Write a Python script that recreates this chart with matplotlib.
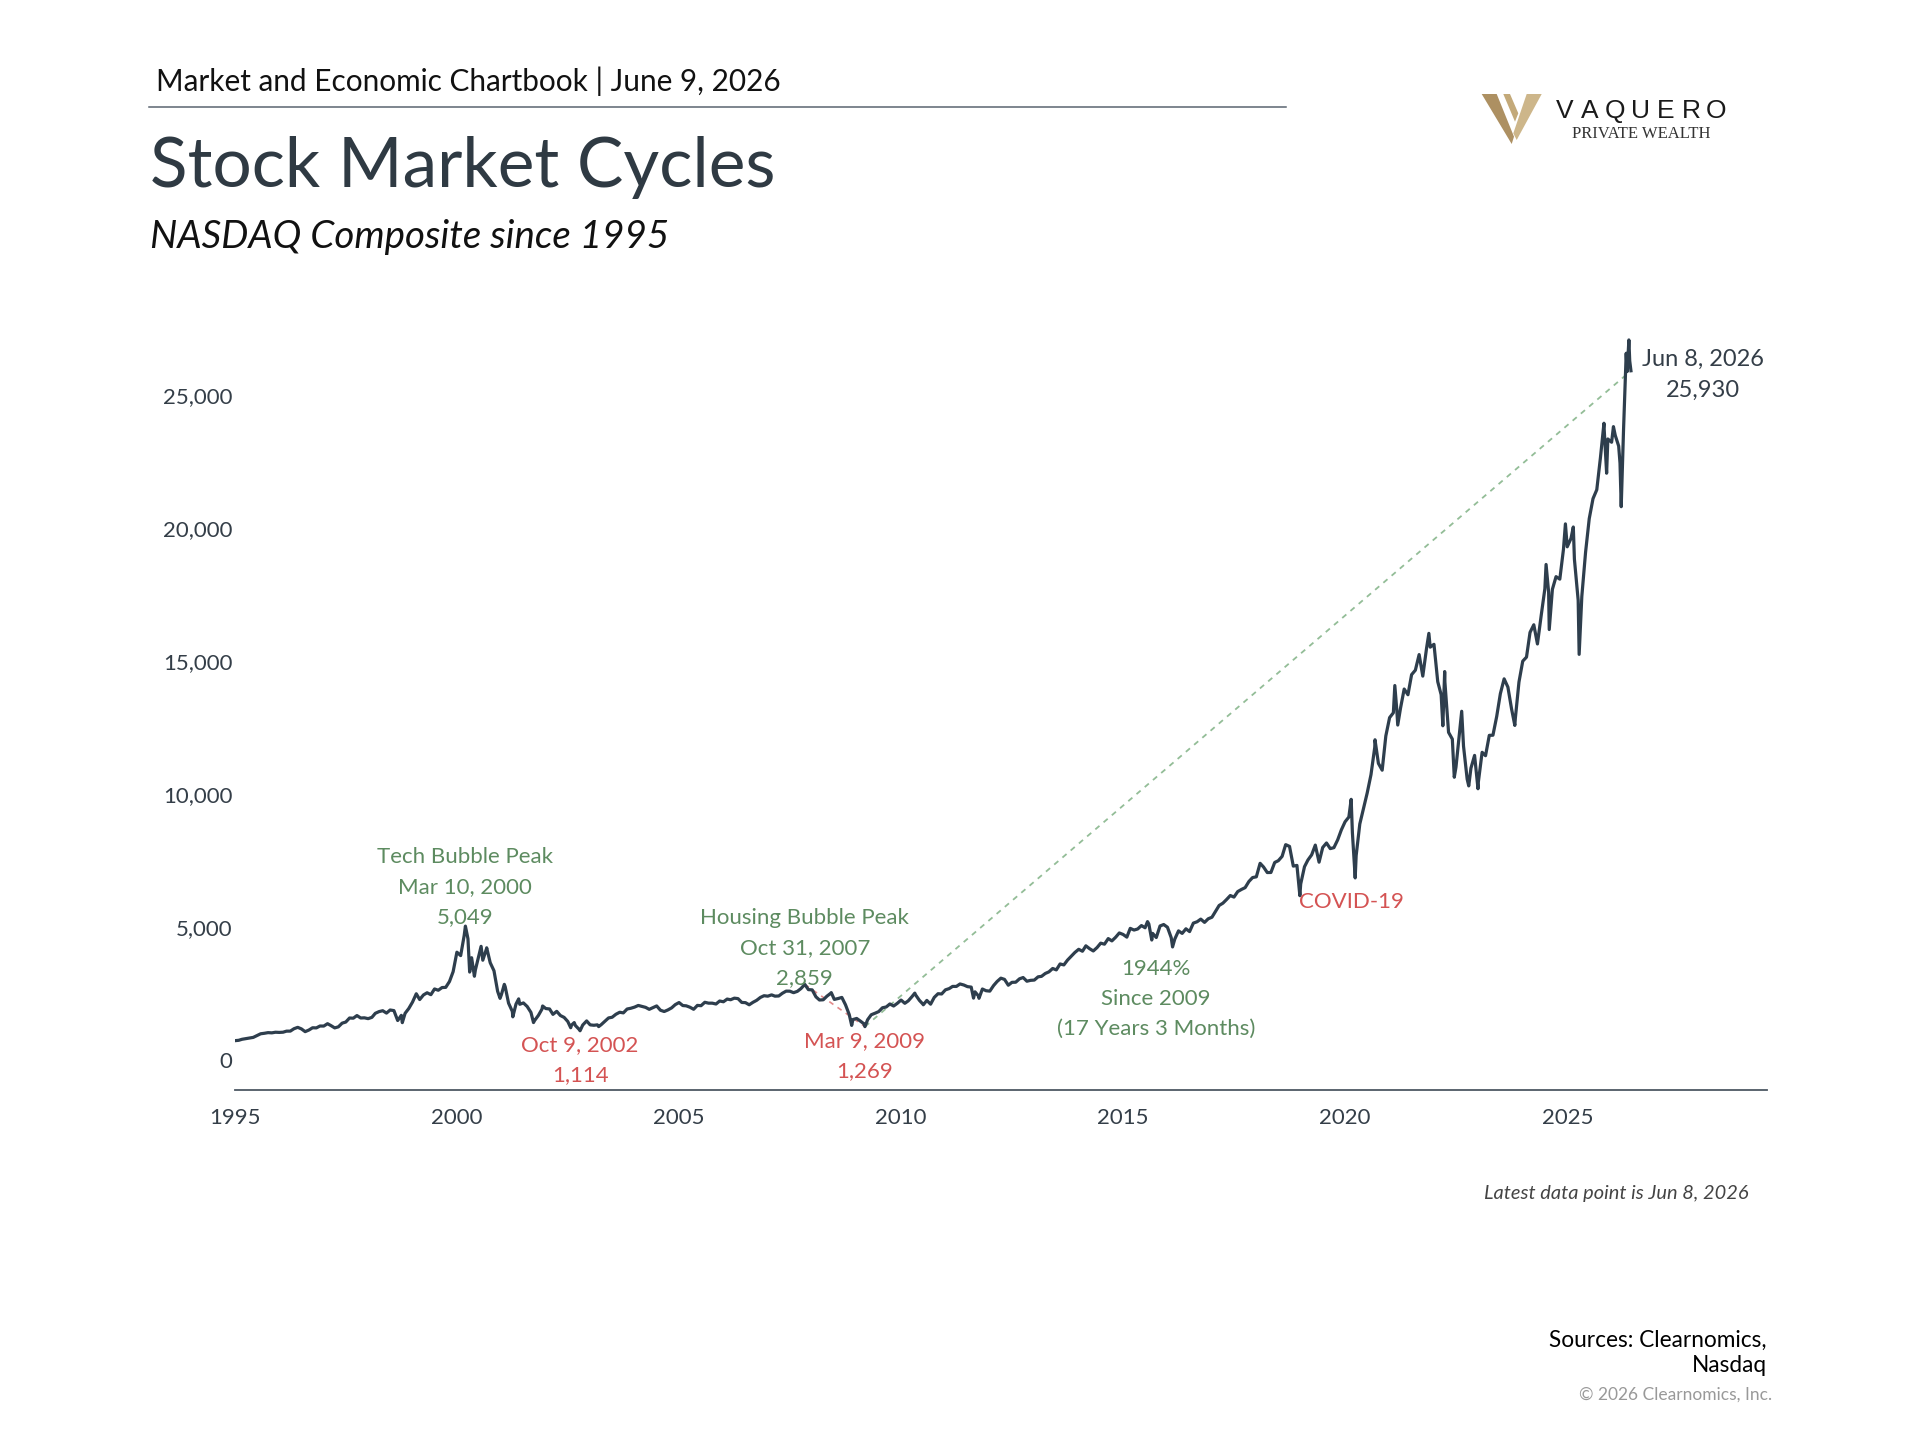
import matplotlib
matplotlib.use('Agg')
import matplotlib.pyplot as plt
import matplotlib.dates as mdates
from matplotlib.patches import Polygon
from matplotlib.lines import Line2D
import pandas as pd

plt.rcParams['font.family'] = ['Lato', 'DejaVu Sans']

# NASDAQ Composite month-end closes, Jan 1995 - Dec 2025
monthly_start = '1995-01-31'
monthly_close = [
    755, 794, 817, 843, 865, 933, 1001, 1020, 1044, 1036, 1059, 1052,
    1060, 1100, 1101, 1191, 1243, 1185, 1081, 1142, 1227, 1222, 1293, 1291,
    1380, 1309, 1222, 1261, 1400, 1442, 1594, 1587, 1686, 1594, 1601, 1570,
    1619, 1771, 1835, 1868, 1779, 1895, 1872, 1499, 1694, 1771, 1950, 2193,
    2506, 2288, 2461, 2543, 2471, 2686, 2638, 2739, 2746, 2966, 3336, 4069,
    3940, 4697, 4573, 3861, 3401, 3966, 3767, 4206, 3673, 3370, 2598, 2471,
    2773, 2152, 1840, 2116, 2110, 2161, 2027, 1805, 1499, 1690, 1931, 1950,
    1934, 1731, 1845, 1688, 1616, 1463, 1328, 1315, 1172, 1330, 1479, 1336,
    1321, 1337, 1341, 1464, 1596, 1623, 1735, 1810, 1787, 1932, 1960, 2003,
    2066, 2030, 1994, 1920, 1987, 2048, 1887, 1838, 1897, 1975, 2097, 2175,
    2062, 2052, 1999, 1922, 2068, 2057, 2185, 2152, 2152, 2120, 2233, 2205,
    2306, 2281, 2340, 2323, 2179, 2172, 2091, 2184, 2258, 2367, 2432, 2415,
    2464, 2416, 2422, 2525, 2605, 2603, 2546, 2596, 2702, 2859, 2661, 2652,
    2390, 2271, 2279, 2413, 2523, 2293, 2326, 2368, 2092, 1721, 1536, 1577,
    1476, 1378, 1529, 1717, 1774, 1835, 1979, 2009, 2122, 2045, 2145, 2269,
    2147, 2238, 2398, 2461, 2257, 2109, 2255, 2114, 2369, 2507, 2498, 2653,
    2700, 2782, 2781, 2874, 2835, 2774, 2756, 2579, 2415, 2684, 2620, 2605,
    2814, 2967, 3092, 3046, 2827, 2935, 2940, 3067, 3116, 2977, 3010, 3020,
    3142, 3160, 3268, 3329, 3456, 3403, 3626, 3590, 3771, 3920, 4060, 4177,
    4104, 4308, 4199, 4115, 4243, 4408, 4370, 4580, 4493, 4631, 4792, 4736,
    4635, 4964, 4901, 4941, 5070, 4987, 5128, 4777, 4620, 5054, 5109, 5007,
    4614, 4558, 4870, 4775, 4948, 4843, 5162, 5213, 5312, 5189, 5324, 5383,
    5615, 5825, 5912, 6048, 6199, 6140, 6348, 6429, 6496, 6728, 6874, 6903,
    7411, 7273, 7063, 7066, 7442, 7510, 7672, 8110, 8046, 7306, 7331, 6635,
    7282, 7533, 7729, 8095, 7453, 8006, 8175, 7963, 7999, 8292, 8665, 8973,
    9151, 8567, 7700, 8890, 9490, 10059, 10745, 11775, 11168, 10912, 12199, 12888,
    13071, 13192, 13247, 13963, 13749, 14504, 14673, 15259, 14449, 15498, 15538, 15645,
    14240, 13751, 14221, 12335, 12081, 11029, 12391, 11816, 10576, 10988, 11468, 10466,
    11585, 11456, 12222, 12227, 12935, 13788, 14346, 14035, 13219, 12851, 14226, 15011,
    15164, 16092, 16379, 15658, 16735, 17733, 17599, 17714, 18189, 18095, 19218, 19311,
    19627, 18847, 17299, 17446, 19114, 20370, 21122, 21456, 22660, 23725, 23366, 23242,
]

# intra-month highs / lows and the 2026 moves
extra_dates = [
    '1995-01-03', '1998-10-08', '2000-03-10', '2000-04-14', '2000-05-23',
    '2000-07-17', '2000-09-01', '2000-12-20', '2001-01-24', '2001-04-04',
    '2001-05-22', '2001-09-21', '2001-12-05', '2002-07-24', '2002-08-22',
    '2002-10-09', '2002-12-02', '2003-03-11', '2008-06-05', '2008-11-20',
    '2009-03-09', '2010-04-23', '2010-07-02', '2011-08-19', '2011-10-03',
    '2015-07-20', '2015-08-24', '2016-02-11', '2018-08-29', '2018-12-24',
    '2020-02-19', '2020-03-23', '2020-09-02', '2021-02-12', '2021-03-08',
    '2021-11-19', '2022-03-14', '2022-03-29', '2022-06-16', '2022-08-16',
    '2022-10-13', '2022-12-28', '2023-10-27', '2024-07-10', '2024-08-05',
    '2024-12-16', '2025-02-19', '2025-04-08', '2025-10-29', '2025-11-20',
    '2026-01-15', '2026-01-30', '2026-02-27', '2026-03-10', '2026-03-20',
    '2026-04-08', '2026-04-30', '2026-05-08', '2026-05-22', '2026-05-29',
    '2026-06-08',
]
extra_close = [
    743, 1419, 5049, 3321, 3164,
    4289, 4234, 2333, 2859, 1638,
    2313, 1423, 2046, 1229, 1422,
    1114, 1484, 1271, 2549, 1316,
    1269, 2530, 2091, 2342, 2335,
    5219, 4526, 4266, 8109, 6193,
    9817, 6861, 12056, 14095, 12609,
    16057, 12581, 14620, 10646, 13128,
    10321, 10213, 12595, 18647, 16200,
    20173, 20056, 15268, 23958, 22078,
    23830, 23500, 23100, 22460, 20820,
    23700, 26590, 25900, 27090, 26300,
    25930,
]

tech_peak = ('2000-03-10', 5049)
tech_low = ('2002-10-09', 1114)
housing_peak = ('2007-10-31', 2859)
housing_low = ('2009-03-09', 1269)
covid_low = ('2020-03-23', 6861)
latest = ('2026-06-08', 25930)

LINE = '#2e3e4d'
GREEN = '#5d8b60'
RED = '#d45353'
DARK = '#343e48'

s = pd.Series(monthly_close, index=pd.date_range(monthly_start, periods=len(monthly_close), freq='ME'))
e = pd.Series(extra_close, index=pd.to_datetime(extra_dates))
nasdaq = pd.concat([s, e]).sort_index()
nasdaq = nasdaq[~nasdaq.index.duplicated(keep='last')]


def fx(px):
    return px / 1920


def fy(py):
    return 1 - py / 1440


def d(t):
    return pd.Timestamp(t)


fig = plt.figure(figsize=(19.2, 14.4), dpi=100)
ax = fig.add_axes([fx(235), fy(1090), fx(1767) - fx(235), fy(300) - fy(1090)])

# trend lines
ax.plot([d(housing_peak[0]), d(housing_low[0])], [housing_peak[1], housing_low[1]],
        color='#e38a8a', lw=1.2, dashes=(3, 3), zorder=1)
ax.plot([d(housing_low[0]), d(latest[0])], [housing_low[1], latest[1]],
        color='#93bd97', lw=1.3, dashes=(3, 3), zorder=1)

ax.plot(nasdaq.index, nasdaq.values, color=LINE, lw=2.3, solid_joinstyle='round', zorder=2)

ax.set_xlim(d('1995-01-01'), d('2029-07-01'))
ax.set_ylim(-1113, 28591)
ax.set_xticks([d(f'{y}-01-01') for y in range(1995, 2030, 5)])
ax.xaxis.set_major_formatter(mdates.DateFormatter('%Y'))
yt = [0, 5000, 10000, 15000, 20000, 25000]
ax.set_yticks(yt)
ax.set_yticklabels([f'{v:,}' for v in yt])
for sp in ['top', 'right', 'left']:
    ax.spines[sp].set_visible(False)
ax.spines['bottom'].set_color('#4d5863')
ax.spines['bottom'].set_linewidth(1.3)
ax.tick_params(axis='x', length=0, pad=13, labelsize=16, labelcolor=DARK)
ax.tick_params(axis='y', length=0, pad=2, labelsize=16, labelcolor=DARK)

# annotations
LS = 1.63
ax.annotate('Tech Bubble Peak\nMar 10, 2000\n5,049', xy=(d(tech_peak[0]), tech_peak[1]),
            xytext=(0, -1), textcoords='offset points', ha='center', va='bottom',
            color=GREEN, fontsize=16, linespacing=LS)
ax.annotate('Housing Bubble Peak\nOct 31, 2007\n2,859', xy=(d(housing_peak[0]), housing_peak[1]),
            xytext=(0, -3), textcoords='offset points', ha='center', va='bottom',
            color=GREEN, fontsize=16, linespacing=LS)
ax.annotate('Oct 9, 2002\n1,114', xy=(d(tech_low[0]), tech_low[1]),
            xytext=(0, -3), textcoords='offset points', ha='center', va='top',
            color=RED, fontsize=16, linespacing=LS)
ax.annotate('Mar 9, 2009\n1,269', xy=(d(housing_low[0]), housing_low[1]),
            xytext=(0, -3), textcoords='offset points', ha='center', va='top',
            color=RED, fontsize=16, linespacing=LS)
ax.annotate('COVID-19', xy=(d(covid_low[0]), covid_low[1]),
            xytext=(-3, -10), textcoords='offset points', ha='center', va='top',
            color=RED, fontsize=16)
ax.text(d('2015-09-27'), 3810, '1944%\nSince 2009\n(17 Years 3 Months)',
        ha='center', va='top', color=GREEN, fontsize=16, linespacing=LS)
ax.annotate('Jun 8, 2026\n25,930', xy=(d(latest[0]), latest[1]),
            xytext=(52, -3), textcoords='offset points', ha='center', va='center',
            color=DARK, fontsize=17, linespacing=LS)

# header
fig.text(fx(156), fy(91), 'Market and Economic Chartbook | June 9, 2026',
         fontsize=21.4, color='#111111', va='baseline')
fig.add_artist(Line2D([fx(149), fx(1286)], [fy(106.5), fy(106.5)],
                      transform=fig.transFigure, color='#5a6470', lw=1.1))
fig.text(fx(150), fy(187), 'Stock Market Cycles', fontsize=50, color='#2f3a43', va='baseline')
fig.text(fx(150), fy(248), 'NASDAQ Composite since 1995', fontsize=27.7,
         fontstyle='italic', color='#111111', va='baseline')

# logo
logo_parts = [
    ([(1481.7, 94), (1496.7, 94), (1514, 136.7), (1511.7, 144)], '#ad9062'),
    ([(1503.3, 94), (1510, 94), (1518.3, 113.3), (1515, 121.7)], '#c3a979'),
    ([(1526.7, 94), (1541.7, 94), (1516.7, 140), (1513.3, 133.3)], '#cdb68a'),
]
for pts, col in logo_parts:
    fig.add_artist(Polygon([(fx(x), fy(y)) for x, y in pts], closed=True,
                           transform=fig.transFigure, facecolor=col, edgecolor='none'))
for i, ch in enumerate('VAQUERO'):
    fig.text(fx(1565 + i * 25.2), fy(111), ch, fontsize=19, color='#1a1a1a',
             ha='center', va='center', family=['Liberation Sans', 'DejaVu Sans'])
fig.text(fx(1641), fy(134), 'PRIVATE WEALTH', fontsize=12, color='#333333',
         ha='center', va='center', family=['Liberation Serif', 'DejaVu Serif'])

# footer
fig.text(fx(1749), fy(1194), 'Latest data point is Jun 8, 2026', fontsize=14.4,
         fontstyle='italic', color='#444444', ha='right', va='center')
fig.text(fx(1767), fy(1340), 'Sources: Clearnomics,', fontsize=16.3, color='#000000',
         ha='right', va='center')
fig.text(fx(1767), fy(1366), 'Nasdaq', fontsize=16.3, color='#000000', ha='right', va='center')
fig.text(fx(1772), fy(1395), '\u00a9 2026 Clearnomics, Inc.', fontsize=12.5, color='#999999',
         ha='right', va='center')

fig.savefig('out.png', dpi=100, facecolor='white')
